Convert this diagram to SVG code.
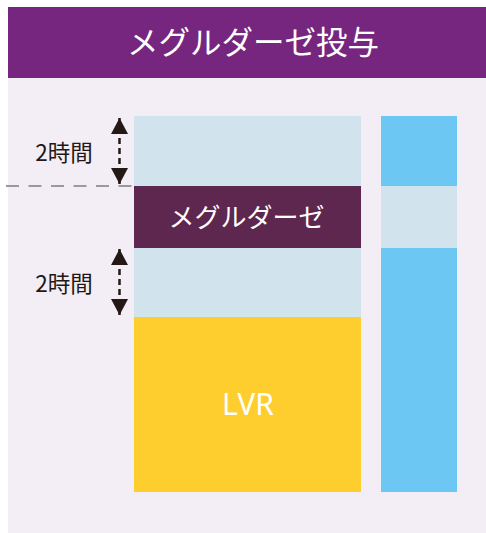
<svg xmlns="http://www.w3.org/2000/svg" width="486" height="533" viewBox="0 0 486 533">
<style>
.lbl{font-family:"Noto Sans CJK JP","Noto Sans",sans-serif;fill:#231815;font-size:22.5px}
.wt{font-family:"Noto Sans CJK JP","Noto Sans",sans-serif;fill:#ffffff}
.shaft{stroke:#231815;stroke-width:2.5;stroke-dasharray:6 4;fill:none}
</style>
<defs>
<marker id="ah" viewBox="0 0 16 17" refX="16" refY="8.5" markerWidth="16" markerHeight="17" markerUnits="userSpaceOnUse" orient="auto-start-reverse">
<path d="M0,0 L16,8.5 L0,17 Z" fill="#231815"/>
</marker>
</defs>
<rect x="8" y="78" width="478" height="455" fill="#F3EEF6"/>
<g id="header">
<rect x="8" y="7" width="478" height="71" fill="#76267F"/>
<text class="wt" x="253" y="54" font-size="31.5" text-anchor="middle">メグルダーゼ投与</text>
</g>
<g id="left-column">
<rect x="134" y="116" width="227" height="70" fill="#D1E3ED"/>
<rect x="134" y="248" width="227" height="69" fill="#D1E3ED"/>
</g>
<g id="megurdase">
<rect x="134" y="186" width="227" height="62" fill="#5E2750"/>
<text class="wt" x="246.5" y="227" font-size="26" text-anchor="middle">メグルダーゼ</text>
</g>
<g id="lvr">
<rect x="134" y="317" width="227" height="175" fill="#FECE2F"/>
<text class="wt" x="248" y="415" font-size="30" text-anchor="middle" style="font-family:'Noto Sans',sans-serif">LVR</text>
</g>
<g id="right-column">
<rect x="381" y="116" width="76" height="70" fill="#6CC7F2"/>
<rect x="381" y="186" width="76" height="62" fill="#D1E3ED"/>
<rect x="381" y="248" width="76" height="244" fill="#6CC7F2"/>
</g>
<g id="connectors">
<line x1="6" y1="186" x2="134" y2="186" stroke="#9A9A9A" stroke-width="2" stroke-dasharray="13 9.5"/>
<line class="shaft" x1="119.5" y1="118" x2="119.5" y2="184" marker-start="url(#ah)" marker-end="url(#ah)"/>
<line class="shaft" x1="119.5" y1="249" x2="119.5" y2="315" marker-start="url(#ah)" marker-end="url(#ah)"/>
</g>
<g id="labels">
<text class="lbl" x="64" y="161" text-anchor="middle">2時間</text>
<text class="lbl" x="64" y="292" text-anchor="middle">2時間</text>
</g>
</svg>
